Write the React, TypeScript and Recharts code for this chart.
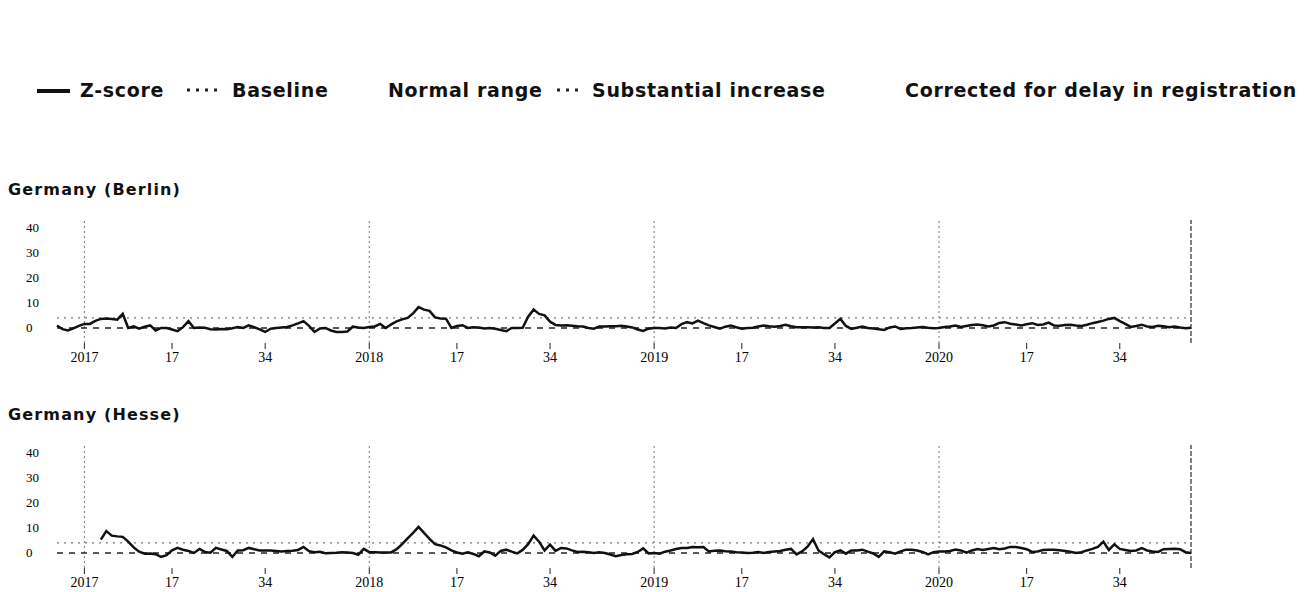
import React from 'react';
import { LineChart, Line, XAxis, YAxis, ReferenceLine } from 'recharts';

// weekly z-scores, 2016 week 48 .. 2020 week 47 (208 weeks)
const BERLIN = [
  1.0, -0.5, -1.0, -0.2, 0.8, 1.6, 1.6, 2.8, 3.6, 3.8, 3.6, 3.3, 5.6, 0.0, 0.6, -0.3,
  0.5, 1.0, -1.0, 0.0, 0.0, -0.6, -1.3, 0.3, 2.7, 0.0, 0.2, 0.1, -0.5, -0.6, -0.4, -0.5,
  -0.1, 0.4, 0.0, 1.0, 0.3, -0.6, -1.6, -0.3, 0.0, 0.2, 0.4, 1.0, 1.8, 2.7, 0.8, -1.6,
  -0.2, 0.0, -1.0, -1.6, -1.6, -1.4, 0.5, 0.2, 0.0, 0.4, 0.6, 1.6, 0.0, 1.4, 2.6, 3.4,
  4.0, 5.8, 8.3, 7.3, 6.8, 4.2, 3.8, 3.7, 0.0, 0.8, 1.1, 0.0, 0.3, 0.2, -0.2, 0.0,
  -0.3, -0.8, -1.3, 0.0, 0.0, 0.1, 4.5, 7.3, 5.6, 5.0, 2.5, 1.2, 1.0, 1.1, 0.9, 0.7,
  0.6, 0.0, -0.3, 0.6, 0.6, 0.7, 0.7, 0.9, 0.6, 0.2, -0.6, -1.2, -0.3, 0.0, 0.0, -0.2,
  0.2, 0.0, 1.5, 2.3, 1.8, 2.9, 1.9, 1.0, 0.4, -0.3, 0.5, 1.0, 0.3, -0.3, 0.0, 0.1,
  0.6, 1.0, 0.7, 0.5, 0.8, 1.3, 0.7, 0.3, 0.3, 0.3, 0.2, 0.3, 0.0, 0.0, 1.8, 3.6,
  0.8, -0.4, 0.1, 0.6, 0.0, -0.2, -0.5, -0.8, 0.2, 0.6, -0.4, -0.1, 0.0, 0.2, 0.4, 0.1,
  -0.1, 0.0, 0.4, 0.6, 1.0, 0.4, 0.8, 1.2, 1.4, 1.1, 0.6, 1.0, 2.0, 2.3, 1.7, 1.4,
  1.0, 1.5, 1.9, 1.2, 1.4, 2.1, 1.0, 0.9, 1.2, 1.3, 1.0, 0.8, 1.3, 1.9, 2.4, 2.9,
  3.6, 4.0, 2.7, 1.6, 0.4, 0.8, 1.3, 0.6, 0.4, 0.9, 0.7, 0.3, 0.6, 0.2, -0.1, 0.1,
];

const HESSE = [
  null, null, null, null, null, null, null, null, 5.3, 8.7, 6.9, 6.6, 6.4, 4.5, 2.2, 0.5,
  -0.3, -0.2, -0.5, -1.6, -0.9, 1.0, 2.0, 1.3, 0.8, 0.0, 1.6, 0.4, 0.1, 2.0, 1.4, 0.8,
  -1.6, 1.0, 1.1, 2.0, 1.5, 1.0, 1.0, 1.0, 0.8, 0.6, 0.8, 0.9, 1.2, 2.4, 0.7, 0.3,
  0.5, -0.1, 0.0, 0.1, 0.3, 0.2, 0.0, -0.7, 1.6, 0.3, 0.3, 0.2, 0.2, 0.2, 1.5, 3.5,
  5.8, 8.0, 10.4, 8.0, 5.6, 3.5, 3.0, 2.2, 1.0, 0.2, -0.3, 0.3, -0.4, -1.3, 0.6, 0.2,
  -1.1, 0.8, 1.3, 0.5, -0.2, 1.2, 3.5, 6.9, 4.5, 1.0, 3.3, 0.8, 2.0, 1.8, 1.0, 0.4,
  0.5, 0.3, 0.0, 0.3, 0.0, -0.6, -1.3, -0.8, -0.5, -0.4, 0.4, 1.8, -0.2, 0.0, -0.3, 0.5,
  1.0, 1.6, 2.0, 2.0, 2.4, 2.3, 2.4, 0.6, 0.9, 1.0, 0.7, 0.6, 0.3, 0.2, 0.0, 0.1,
  0.4, 0.0, 0.4, 0.6, 0.8, 1.3, 1.6, -0.6, 0.6, 2.5, 5.5, 1.0, -0.5, -1.8, 0.3, 1.0,
  -0.3, 1.0, 1.0, 1.3, 0.5, -0.2, -1.6, 0.6, 0.3, -0.3, 0.6, 1.3, 1.3, 1.0, 0.4, -0.6,
  0.3, 0.6, 0.6, 0.8, 1.4, 1.0, 0.1, 1.0, 1.6, 1.2, 1.6, 2.0, 1.5, 1.8, 2.4, 2.4,
  2.0, 1.5, 0.4, 0.6, 1.2, 1.3, 1.3, 1.1, 0.8, 0.5, 0.0, 0.3, 1.0, 1.6, 2.4, 4.5,
  1.2, 3.4, 1.6, 1.2, 0.8, 1.0, 1.9, 1.0, 0.6, 0.4, 1.5, 1.6, 1.7, 1.5, 0.3, 0.0,
];

const X_TICKS = [5, 21, 38, 57, 73, 90, 109, 125, 142, 161, 177, 194];
const X_LABELS = ['2017', '17', '34', '2018', '17', '34', '2019', '17', '34', '2020', '17', '34'];
const YEAR_STARTS = [5, 57, 109, 161];
const LAST_WEEK = 207;
const Y_TICKS = [0, 10, 20, 30, 40];
const BASELINE_Z = 0;
const SUBSTANTIAL_Z = 4;

const data = BERLIN.map((v, i) => ({ i, berlin: v, hesse: HESSE[i] }));

const sans = '"DejaVu Sans", sans-serif';
const serif = '"Liberation Serif", serif';

const YTick = (props: any) => {
  const { y, payload } = props;
  return (
    <text x={26} y={y} dy={4} textAnchor="start" fontFamily={serif} fontSize={13} fill="#000">
      {payload.value}
    </text>
  );
};

function Panel({ title, dataKey, top }: { title: string; dataKey: string; top: number }) {
  return (
    <>
      <div style={{ position: 'absolute', left: 8, top: top - 30, fontFamily: sans, fontWeight: 700, fontSize: 16, letterSpacing: 1.15, color: '#111' }}>
        {title}
      </div>
      <div style={{ position: 'absolute', left: 0, top }}>
        <LineChart width={1312} height={163} data={data} margin={{ top: 10, right: 121, bottom: 0, left: 0 }}>
          <XAxis
            dataKey="i"
            type="number"
            domain={[0, LAST_WEEK]}
            ticks={X_TICKS}
            tickFormatter={(v: number) => X_LABELS[X_TICKS.indexOf(v)]}
            axisLine={false}
            tickLine={{ stroke: '#222' }}
            tickSize={6}
            tickMargin={3}
            tick={{ fontFamily: serif, fontSize: 14, fill: '#000' }}
            height={30}
            interval={0}
          />
          <YAxis
            domain={[-6, 43]}
            ticks={Y_TICKS}
            axisLine={false}
            tickLine={false}
            width={57}
            tick={<YTick />}
            allowDataOverflow
          />
          {YEAR_STARTS.map(x => (
            <ReferenceLine key={x} x={x} stroke="#777" strokeWidth={1} strokeDasharray="2 3" />
          ))}
          <ReferenceLine x={LAST_WEEK} stroke="#555" strokeWidth={1.5} strokeDasharray="5 2" />
          <ReferenceLine y={SUBSTANTIAL_Z} stroke="#777" strokeWidth={1.2} strokeDasharray="2 5" />
          <ReferenceLine y={BASELINE_Z} stroke="#222" strokeWidth={1.5} strokeDasharray="6 6" />
          <Line
            dataKey={dataKey}
            stroke="#111"
            strokeWidth={2.5}
            dot={false}
            isAnimationActive={false}
            connectNulls={false}
          />
        </LineChart>
      </div>
    </>
  );
}

const legendText: React.CSSProperties = {
  position: 'absolute',
  top: 79,
  fontFamily: sans,
  fontWeight: 700,
  fontSize: 19,
  letterSpacing: 0.7,
  color: '#111',
  whiteSpace: 'nowrap',
};

const Dots = ({ left, width }: { left: number; width: number }) => (
  <svg style={{ position: 'absolute', left, top: 86 }} width={width} height={8}>
    <line x1={1} y1={4} x2={width} y2={4} stroke="#222" strokeWidth={3} strokeDasharray="3 6" />
  </svg>
);

export default function App() {
  return (
    <div style={{ position: 'absolute', left: 0, top: 0, width: 1312, height: 592, overflow: 'hidden', background: '#fff' }}>
      <div style={{ position: 'absolute', left: 37, top: 89, width: 33, height: 4, background: '#111' }} />
      <div style={{ ...legendText, left: 80 }}>Z-score</div>
      <Dots left={186} width={32} />
      <div style={{ ...legendText, left: 232 }}>Baseline</div>
      <div style={{ ...legendText, left: 388 }}>Normal range</div>
      <Dots left={556} width={28} />
      <div style={{ ...legendText, left: 592 }}>Substantial increase</div>
      <div style={{ ...legendText, left: 905 }}>Corrected for delay in registration</div>
      <Panel title="Germany (Berlin)" dataKey="berlin" top={210} />
      <Panel title="Germany (Hesse)" dataKey="hesse" top={435} />
    </div>
  );
}
